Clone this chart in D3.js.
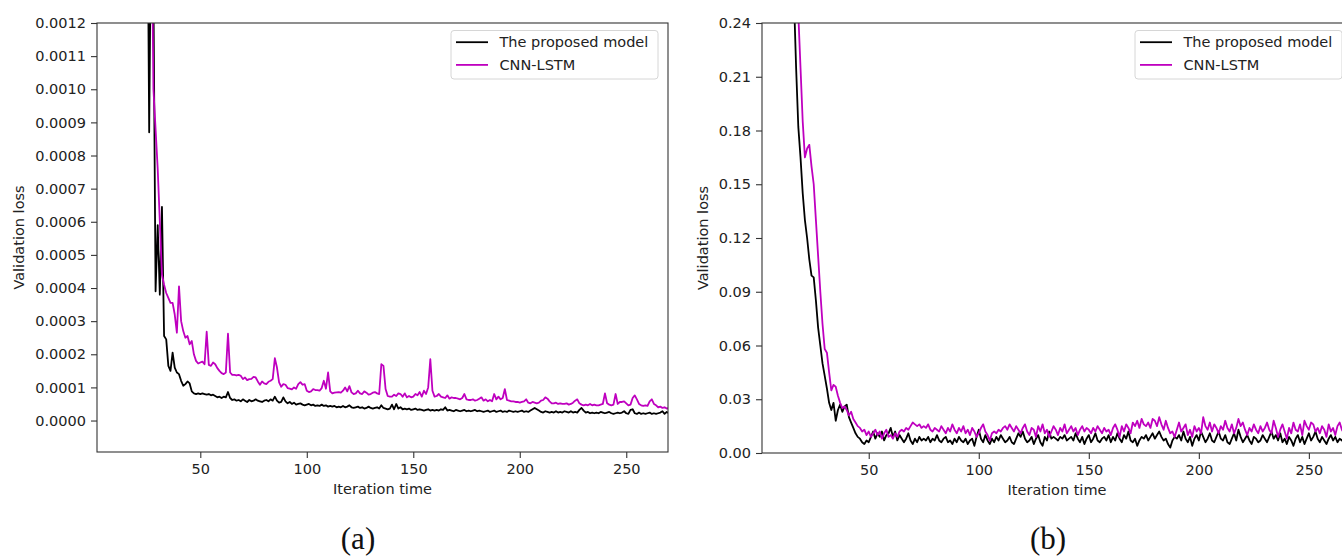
<!DOCTYPE html>
<html>
<head>
<meta charset="utf-8">
<script src="https://d3js.org/d3.v7.min.js"></script>
<style>
  body { margin: 0; background: #fff; }
  svg text { font-family: "DejaVu Sans", sans-serif; fill: #222; }
</style>
</head>
<body>
<script>
// ******************** data ********************

// panel (a): one value per iteration, starting at iteration 21, in units of 1e-6
var iterStartA = 21
var lossUnitA = 1e-6
var proposedA = [
  3000, 2800, 2600, 2500, 1800, 870, 1600, 1300, 390, 590,
  380, 645, 255, 245, 165, 150, 205, 160, 145, 140,
  120, 105, 110, 118, 112, 88, 82, 80, 82, 80,
  82, 80, 78, 80, 76, 78, 74, 70, 72, 68,
  72, 70, 86, 68, 62, 64, 60, 62, 58, 64,
  60, 56, 62, 58, 60, 64, 60, 58, 56, 60,
  62, 58, 64, 60, 72, 60, 54, 56, 70, 58,
  52, 56, 50, 54, 48, 50, 52, 48, 46, 48,
  50, 46, 48, 44, 46, 44, 48, 44, 46, 42,
  44, 42, 44, 40, 42, 40, 44, 40, 42, 46,
  40, 38, 40, 42, 38, 40, 36, 38, 42, 38,
  36, 38, 40, 36, 46, 38, 36, 34, 36, 48,
  34, 50, 36, 40, 34, 36, 34, 36, 32, 34,
  36, 32, 34, 32, 30, 32, 34, 30, 32, 30,
  32, 30, 34, 32, 40, 30, 32, 30, 28, 32,
  30, 28, 30, 32, 28, 30, 28, 30, 32, 28,
  30, 28, 26, 28, 30, 26, 28, 30, 26, 28,
  30, 26, 28, 26, 30, 28, 26, 28, 26, 28,
  30, 26, 28, 26, 30, 34, 38, 34, 30, 26,
  24, 28, 26, 24, 26, 24, 28, 24, 26, 24,
  28, 26, 24, 28, 24, 26, 24, 32, 38, 30,
  24, 26, 22, 24, 22, 24, 22, 26, 24, 22,
  24, 26, 22, 20, 22, 24, 22, 24, 28, 22,
  20, 32, 34, 22, 20, 24, 20, 22, 20, 22,
  24, 20, 22, 20, 22, 24, 28, 20, 26, 22
]
var cnnlstmA = [
  3500, 3200, 3000, 2800, 2600, 2300, 1600, 1000, 880, 760,
  600, 440, 410, 385, 370, 355, 355, 320, 265, 405,
  300, 270, 250, 255, 230, 240, 200, 180, 172, 175,
  178, 170, 268, 168, 165, 175, 170, 158, 150, 143,
  140, 145, 262, 145, 138, 138, 136, 138, 135, 125,
  130, 122, 125, 126, 132, 130, 118, 108, 118, 112,
  110, 117, 120, 125, 188, 160, 115, 102, 110, 108,
  98, 96, 94, 100, 96, 110, 116, 108, 110, 90,
  86, 88, 95, 92, 92, 90, 98, 120, 96, 145,
  88, 82, 84, 85, 86, 84, 90, 100, 88, 104,
  85, 80, 82, 90, 82, 80, 88, 84, 78, 80,
  84, 86, 82, 80, 170, 165, 95, 74, 72, 72,
  78, 74, 82, 80, 72, 82, 70, 74, 70, 72,
  80, 76, 86, 72, 90, 80, 100, 185, 90, 72,
  74, 80, 72, 70, 68, 76, 66, 70, 68, 68,
  66, 64, 68, 80, 64, 62, 62, 64, 60, 62,
  66, 70, 60, 64, 58, 62, 58, 80, 64, 72,
  64, 68, 95, 62, 60, 58, 58, 56, 56, 54,
  56, 58, 64, 54, 52, 56, 54, 52, 54, 60,
  62, 70, 66, 58, 52, 52, 54, 50, 52, 50,
  50, 52, 48, 50, 54, 60, 64, 52, 48, 46,
  48, 46, 50, 46, 48, 46, 46, 48, 50, 82,
  52, 48, 46, 48, 80, 50, 56, 56, 58, 52,
  46, 48, 68, 76, 64, 50, 46, 44, 46, 44,
  58, 64, 50, 46, 40, 42, 38, 40, 36, 38
]

// panel (b): one value per iteration, starting at iteration 11, in units of 1e-3
var iterStartB = 11
var lossUnitB = 1e-3
var proposedB = [
  380, 350, 320, 300, 280, 255, 215, 182, 165, 145,
  130, 120, 108, 99, 98, 85, 70, 60, 50, 43,
  36, 28, 24, 28, 18, 24, 27, 23, 26, 27,
  20, 17, 14, 11, 9, 8, 6, 5, 7, 6,
  9, 12, 8, 11, 9, 12, 7, 10, 11, 14,
  9, 12, 7, 10, 8, 6, 8, 11, 7, 5,
  8, 6, 9, 7, 8, 7, 9, 6, 8, 7,
  10, 7, 6, 8, 9, 6, 7, 5, 8, 6,
  9, 7, 6, 8, 5, 7, 8, 4, 9, 13,
  8, 6, 10, 7, 5, 8, 6, 9, 7, 10,
  8, 6, 7, 9, 6, 5, 8, 11, 9, 12,
  8, 6, 7, 9, 5, 8, 10, 6, 4, 9,
  7, 12, 8, 9, 8, 7, 9, 8, 10, 7,
  8, 9, 7, 11, 8, 6, 9, 5, 8, 10,
  6, 8, 11, 7, 6, 8, 9, 7, 10, 6,
  9, 7, 11, 8, 6, 10, 8, 12, 7, 6,
  8, 4, 7, 9, 8, 10, 7, 9, 11, 8,
  10, 12, 9, 7, 8, 5, 3, 7, 9, 8,
  10, 7, 12, 8, 6, 9, 4, 8, 10, 7,
  12, 9, 6, 8, 11, 7, 6, 9, 12, 8,
  7, 10, 6, 5, 8, 11, 7, 13, 9, 6,
  8, 10, 7, 5, 9, 8, 6, 7, 10, 8,
  6, 9, 12, 8, 10, 7, 11, 6, 8, 5,
  9, 7, 4, 8, 10, 6, 9, 5, 8, 11,
  7, 9, 12, 8, 6, 9, 7, 5, 8, 10,
  7, 9, 6, 8, 7, 9, 8, 10, 8, 9
]
var cnnlstmB = [
  420, 390, 360, 340, 320, 300, 280, 245, 215, 185,
  165, 170, 172, 160, 150, 130, 110, 90, 72, 58,
  56, 45, 35, 38, 37, 32, 28, 25, 26, 24,
  21, 23, 19, 17, 15, 14, 12, 13, 10, 12,
  9, 11, 13, 10, 12, 8, 11, 13, 9, 10,
  8, 11, 9, 12, 13, 12, 14, 13, 15, 17,
  16, 15, 16, 14, 15, 14, 16, 13, 12, 14,
  13, 12, 15, 13, 11, 14, 12, 16, 13, 11,
  14, 12, 15, 11, 13, 10, 14, 12, 9, 11,
  14, 16, 12, 10, 7, 11, 12, 11, 13, 12,
  14, 15, 13, 16, 14, 12, 15, 13, 11, 14,
  16, 12, 10, 14, 13, 9, 15, 12, 16, 11,
  13, 9, 12, 15, 13, 10, 14, 12, 16, 11,
  13, 15, 12, 14, 10, 13, 15, 12, 14, 13,
  11, 14, 12, 15, 13, 11, 14, 12, 13, 10,
  14, 16, 13, 9, 15, 12, 16, 14, 11, 17,
  15, 18, 14, 19, 16, 15, 17, 14, 19, 18,
  15, 20, 16, 13, 18, 14, 11, 12, 9, 13,
  17, 12, 14, 16, 10, 13, 9, 15, 12, 14,
  11, 20, 15, 13, 17, 12, 16, 14, 11, 15,
  13, 18, 14, 12, 16, 11, 14, 19, 15, 17,
  13, 10, 14, 12, 16, 13, 11, 15, 12, 14,
  17, 13, 11, 18, 14, 9, 13, 16, 12, 8,
  14, 11, 17, 13, 12, 16, 10, 18, 15, 13,
  17, 16, 12, 14, 11, 15, 13, 9, 16, 12,
  14, 10, 15, 17, 13, 11, 16, 14, 12, 15
]

var seriesNames = ["The proposed model", "CNN-LSTM"]
var xTicks = [50, 100, 150, 200, 250]
var yTicksA = [0, 0.0001, 0.0002, 0.0003, 0.0004, 0.0005, 0.0006, 0.0007, 0.0008, 0.0009, 0.0010, 0.0011, 0.0012]
var yTicksB = [0, 0.03, 0.06, 0.09, 0.12, 0.15, 0.18, 0.21, 0.24]
var xLabel = "Iteration time"
var yLabel = "Validation loss"
var captions = ["(a)", "(b)"]

// ******************** chart code ********************

var W = 1342, H = 557
var lineColors = ["#000000", "#bf00bf"]

var svg = d3.select("body").append("svg")
  .attr("width", W)
  .attr("height", H)

// turn a list of values into {x, y} points
function toPoints(vals, start, unit) {
  return vals.map(function(v, i) { return { x: start + i, y: v * unit } })
}

function drawPanel(p) {
  var x = d3.scaleLinear().domain([1.5, 269.6]).range([p.left, p.right])
  var y = d3.scaleLinear().domain(p.yDomain).range([p.bottom, p.top])

  var g = svg.append("g")

  g.append("clipPath").attr("id", p.id + "-clip")
    .append("rect")
    .attr("x", p.left).attr("y", p.top)
    .attr("width", p.right - p.left).attr("height", p.bottom - p.top)

  var line = d3.line()
    .x(function(d) { return x(d.x) })
    .y(function(d) { return y(d.y) })

  // proposed model first, CNN-LSTM drawn over it
  p.series.forEach(function(s, i) {
    g.append("path")
      .datum(s)
      .attr("clip-path", "url(#" + p.id + "-clip)")
      .attr("fill", "none")
      .attr("stroke", lineColors[i])
      .attr("stroke-width", 1.8)
      .attr("stroke-linejoin", "round")
      .attr("d", line)
  })

  // axes
  var xAxis = g.append("g")
    .attr("transform", "translate(0," + p.bottom + ")")
    .call(d3.axisBottom(x).tickValues(xTicks).tickSize(6).tickPadding(6))
  var yAxis = g.append("g")
    .attr("transform", "translate(" + p.left + ",0)")
    .call(d3.axisLeft(y).tickValues(p.yTicks).tickFormat(p.fmt).tickSize(6).tickPadding(5))

  ;[xAxis, yAxis].forEach(function(a) {
    a.select(".domain").remove()
    a.selectAll(".tick line").attr("stroke", "#333").attr("stroke-width", 1.1)
    a.selectAll("text")
      .attr("fill", "#222")
      .style("font-family", "'DejaVu Sans', sans-serif")
      .style("font-size", "14.5px")
  })

  // frame
  g.append("rect")
    .attr("x", p.left).attr("y", p.top)
    .attr("width", p.right - p.left).attr("height", p.bottom - p.top)
    .attr("fill", "none")
    .attr("stroke", "#333")
    .attr("stroke-width", 1.1)

  // axis titles
  g.append("text")
    .attr("x", (p.left + p.right) / 2)
    .attr("y", p.bottom + 42)
    .attr("text-anchor", "middle")
    .style("font-size", "14.5px")
    .text(xLabel)

  g.append("text")
    .attr("transform", "translate(" + (p.left - p.ylabOff) + "," + ((p.top + p.bottom) / 2) + ") rotate(-90)")
    .attr("text-anchor", "middle")
    .style("font-size", "14.5px")
    .text(yLabel)

  // legend
  var lw = 207, lx = p.right - 10 - lw, ly = p.top + 7.5
  var lg = g.append("g")
  lg.append("rect")
    .attr("x", lx).attr("y", ly)
    .attr("width", lw).attr("height", 48.5)
    .attr("rx", 3)
    .attr("fill", "#fff")
    .attr("fill-opacity", 0.8)
    .attr("stroke", "#d6d6d6")
  seriesNames.forEach(function(name, i) {
    var yy = ly + 11.7 + i * 22.7
    lg.append("line")
      .attr("x1", lx + 5).attr("x2", lx + 37)
      .attr("y1", yy).attr("y2", yy)
      .attr("stroke", lineColors[i])
      .attr("stroke-width", 1.8)
    lg.append("text")
      .attr("x", lx + 48.5)
      .attr("y", yy)
      .attr("dy", "0.36em")
      .style("font-size", "14.5px")
      .text(name)
  })

  // caption under the panel
  svg.append("text")
    .attr("x", p.capX)
    .attr("y", 549)
    .attr("text-anchor", "middle")
    .style("font-family", "'Liberation Serif', 'Times New Roman', serif")
    .style("font-size", "31px")
    .style("fill", "#111")
    .text(p.caption)
}

drawPanel({
  id: "pa",
  left: 97, right: 668, top: 23, bottom: 452,
  yDomain: [-0.000095, 0.0012],
  yTicks: yTicksA,
  fmt: d3.format(".4f"),
  ylabOff: 73,
  series: [toPoints(proposedA, iterStartA, lossUnitA), toPoints(cnnlstmA, iterStartA, lossUnitA)],
  caption: captions[0],
  capX: 358
})

drawPanel({
  id: "pb",
  left: 762, right: 1352, top: 23, bottom: 453,
  yDomain: [0, 0.24],
  yTicks: yTicksB,
  fmt: d3.format(".2f"),
  ylabOff: 54,
  series: [toPoints(proposedB, iterStartB, lossUnitB), toPoints(cnnlstmB, iterStartB, lossUnitB)],
  caption: captions[1],
  capX: 1048
})
</script>
</body>
</html>
